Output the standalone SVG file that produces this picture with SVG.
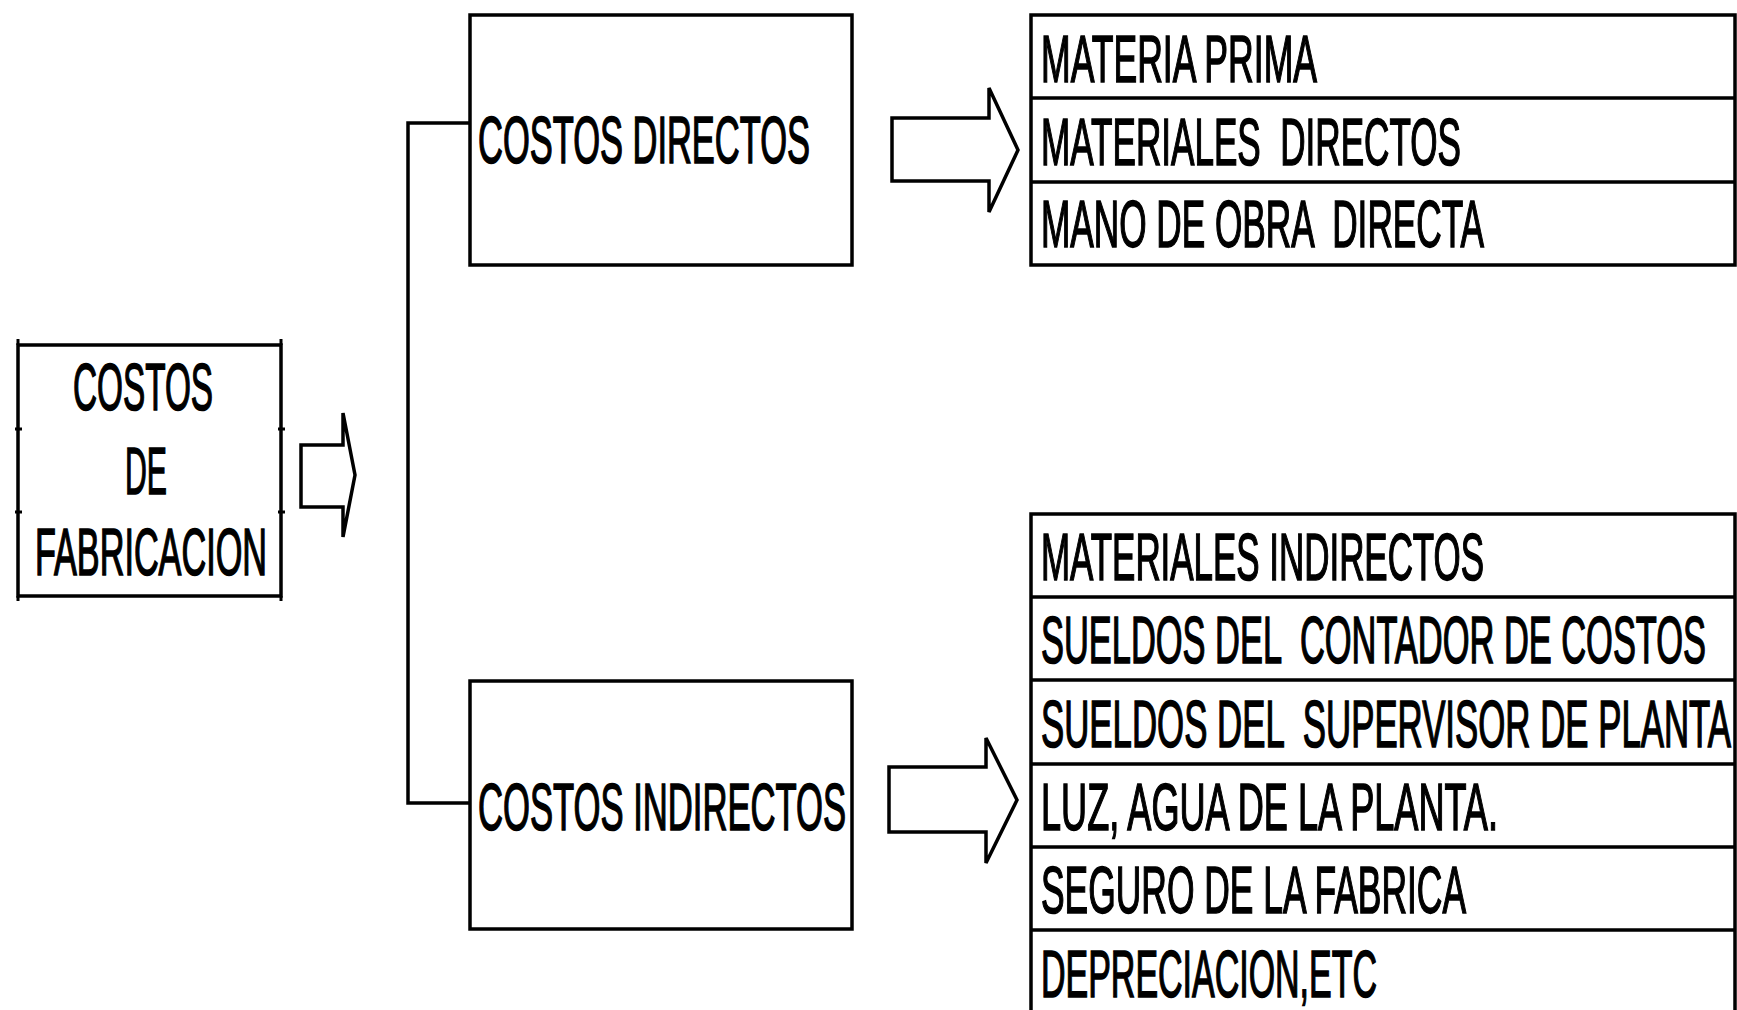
<svg xmlns="http://www.w3.org/2000/svg" width="1737" height="1010" viewBox="0 0 1737 1010">
<style>
.box{fill:#fff;stroke:#000;stroke-width:3.5}
.row{fill:none;stroke:#000;stroke-width:3.5}
.arr{fill:#fff;stroke:#000;stroke-width:3.5;stroke-linejoin:miter}
.conn{fill:none;stroke:#000;stroke-width:3.5}
text{font-family:"Liberation Sans",Arial,sans-serif;font-size:66px;fill:#000;stroke:#000;stroke-width:1.6;white-space:pre}
</style>
<rect width="1737" height="1010" fill="#fff"/>
<g id="connectors">
<path class="conn" d="M470,123 H408 V803 H470"/>
<path class="arr" d="M301,445 H343 V413 L355,475 L343,537 V507 H301 Z"/>
<path class="arr" d="M892,118 H989 V88 L1018,150 L989,212 V181 H892 Z"/>
<path class="arr" d="M889,767 H986 V738 L1017,800 L986,863 V832 H889 Z"/>
</g>
<g id="costos-fabricacion">
<rect class="box" x="18" y="345" width="263" height="251"/>
<path d="M18,339 V345 M281,339 V345 M18,596 V601 M281,596 V601 M15,429 H22 M15,512 H22 M278,429 H285 M278,512 H285" stroke="#000" stroke-width="3"/>
<text transform="translate(73,410) scale(0.5,1)" textLength="280" lengthAdjust="spacingAndGlyphs">COSTOS</text>
<text transform="translate(125,494) scale(0.5,1)" textLength="84" lengthAdjust="spacingAndGlyphs">DE</text>
<text transform="translate(35,575) scale(0.5,1)" textLength="464" lengthAdjust="spacingAndGlyphs">FABRICACION</text>
</g>
<g id="costos-directos">
<rect class="box" x="470" y="15" width="382" height="250"/>
<text transform="translate(478,163) scale(0.5,1)" textLength="664" lengthAdjust="spacingAndGlyphs">COSTOS DIRECTOS</text>
</g>
<g id="costos-indirectos">
<rect class="box" x="470" y="681" width="382" height="248"/>
<text transform="translate(478,830) scale(0.5,1)" textLength="736" lengthAdjust="spacingAndGlyphs">COSTOS INDIRECTOS</text>
</g>
<g id="lista-directos">
<rect class="box" x="1031" y="15" width="704" height="250"/>
<path class="row" d="M1031,98 H1735 M1031,182 H1735"/>
<text transform="translate(1041,82) scale(0.5,1)" textLength="552" lengthAdjust="spacingAndGlyphs">MATERIA PRIMA</text>
<text transform="translate(1041,165) scale(0.5,1)" textLength="840" lengthAdjust="spacingAndGlyphs" xml:space="preserve">MATERIALES  DIRECTOS</text>
<text transform="translate(1041,247) scale(0.5,1)" textLength="886" lengthAdjust="spacingAndGlyphs" xml:space="preserve">MANO DE OBRA  DIRECTA</text>
</g>
<g id="lista-indirectos">
<path class="row" d="M1031,1012 V514 H1735 V1012 M1031,597 H1735 M1031,680 H1735 M1031,764 H1735 M1031,847 H1735 M1031,930 H1735"/>
<text transform="translate(1041,580) scale(0.5,1)" textLength="886" lengthAdjust="spacingAndGlyphs">MATERIALES INDIRECTOS</text>
<text transform="translate(1041,663) scale(0.5,1)" textLength="1330" lengthAdjust="spacingAndGlyphs" xml:space="preserve">SUELDOS DEL  CONTADOR DE COSTOS</text>
<text transform="translate(1041,747) scale(0.5,1)" textLength="1380" lengthAdjust="spacingAndGlyphs" xml:space="preserve">SUELDOS DEL  SUPERVISOR DE PLANTA</text>
<text transform="translate(1041,830) scale(0.5,1)" textLength="914" lengthAdjust="spacingAndGlyphs">LUZ, AGUA DE LA PLANTA.</text>
<text transform="translate(1041,913) scale(0.5,1)" textLength="850" lengthAdjust="spacingAndGlyphs">SEGURO DE LA FABRICA</text>
<text transform="translate(1041,997) scale(0.5,1)" textLength="672" lengthAdjust="spacingAndGlyphs">DEPRECIACION,ETC</text>
</g>
</svg>
